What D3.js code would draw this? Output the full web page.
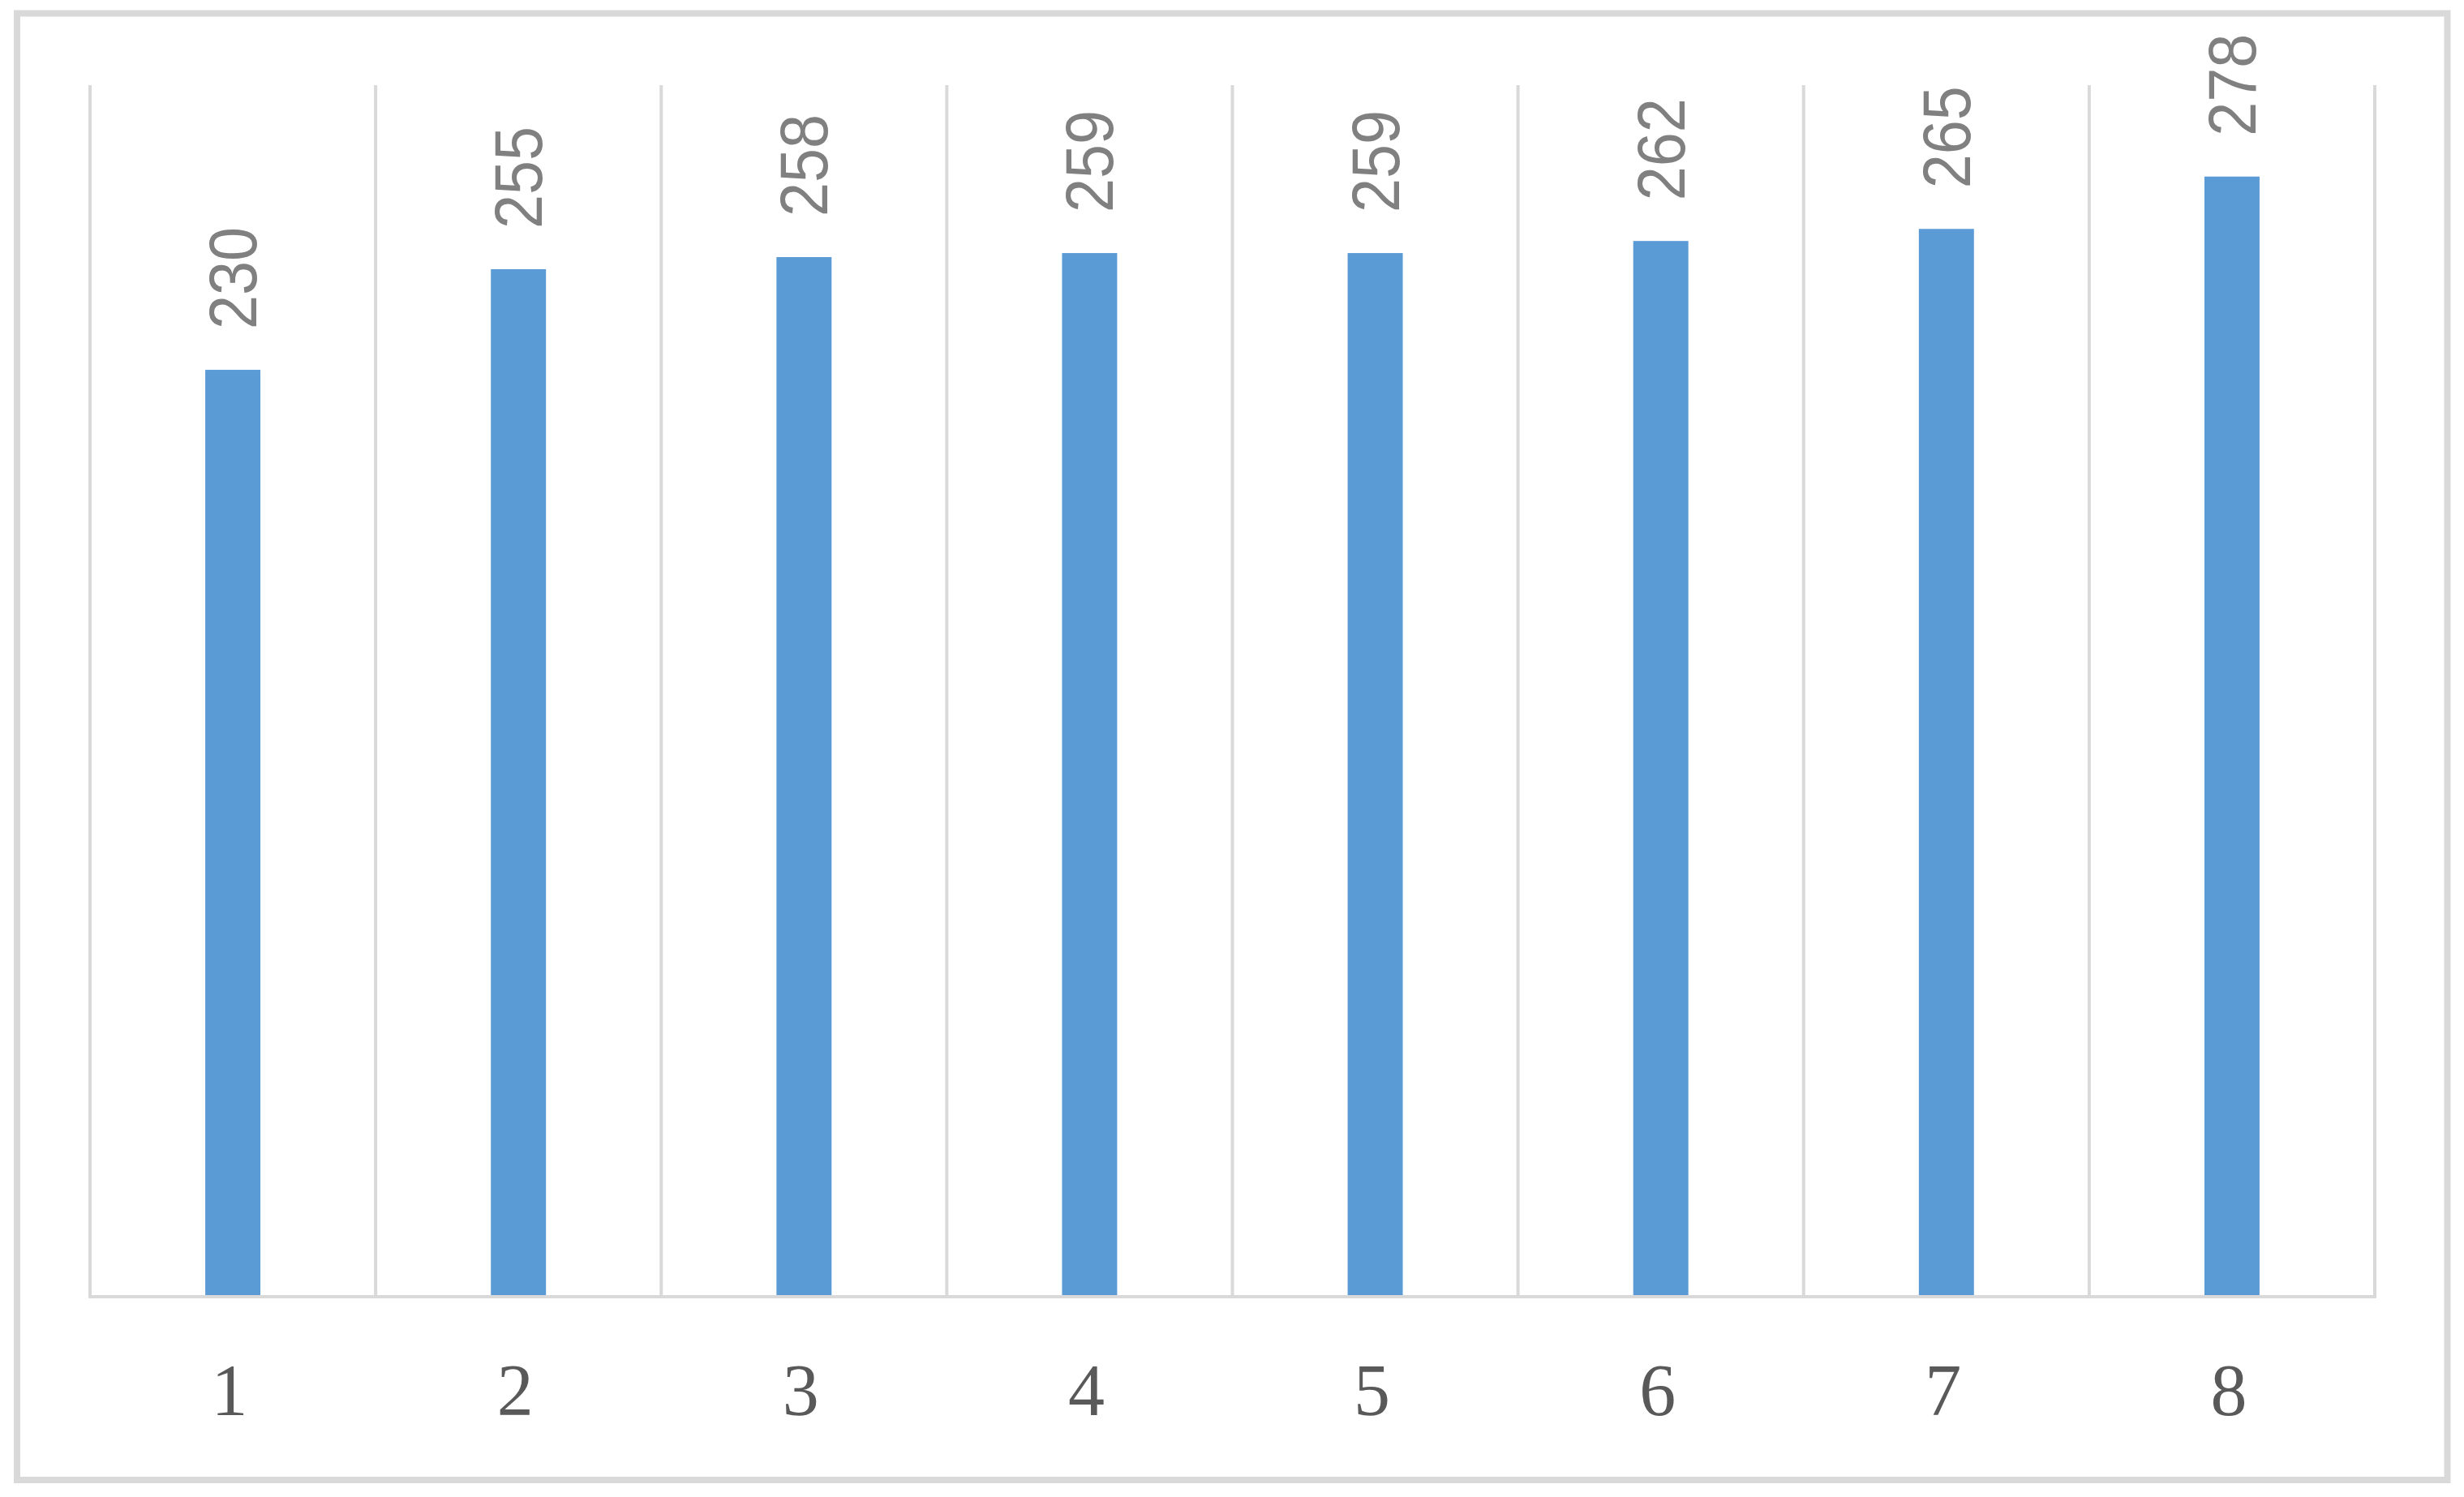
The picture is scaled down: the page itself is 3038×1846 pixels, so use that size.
<!DOCTYPE html>
<html>
<head>
<meta charset="utf-8">
<script src="https://cdn.jsdelivr.net/npm/d3@7"></script>
<style>
  body { margin: 0; background: #fff; }
  svg { display: block; }
</style>
</head>
<body>
<div id="container"></div>
<script>
var categories = ["1", "2", "3", "4", "5", "6", "7", "8"];
var values = [230, 255, 258, 259, 259, 262, 265, 278];
var yMax = 300;

var width = 3038, height = 1846;
var plot = {left: 111, right: 2928, top: 105, bottom: 1598};

var svg = d3.select("#container").append("svg")
    .attr("width", width)
    .attr("height", height);

// outer chart border
svg.append("rect")
    .attr("x", 21)
    .attr("y", 16.5)
    .attr("width", 2996.5)
    .attr("height", 1808.5)
    .attr("fill", "#fff")
    .attr("stroke", "#d9d9d9")
    .attr("stroke-width", 8);

var x = d3.scaleBand()
    .domain(categories)
    .range([plot.left, plot.right]);

// value axis tops out a little below the gridline tops
var y = d3.scaleLinear()
    .domain([0, yMax])
    .range([plot.bottom, plot.top + 3.5]);

// vertical gridlines at the category boundaries
var bounds = categories.map(function(c) { return x(c); }).concat([plot.right]);
svg.append("g")
  .selectAll("line")
  .data(bounds)
  .enter().append("line")
    .attr("x1", function(d) { return d; })
    .attr("x2", function(d) { return d; })
    .attr("y1", plot.top)
    .attr("y2", plot.bottom)
    .attr("stroke", "#d9d9d9")
    .attr("stroke-width", 4);

var barW = x.bandwidth() * 0.193;

svg.append("g")
  .selectAll("rect")
  .data(values)
  .enter().append("rect")
    .attr("x", function(d, i) { return x(categories[i]) + x.bandwidth() / 2 - barW / 2; })
    .attr("y", function(d) { return y(d); })
    .attr("width", barW)
    .attr("height", function(d) { return y(0) - y(d); })
    .attr("fill", "#5b9bd5");

// baseline
svg.append("line")
    .attr("x1", plot.left - 2)
    .attr("x2", plot.right + 2)
    .attr("y1", plot.bottom + 1)
    .attr("y2", plot.bottom + 1)
    .attr("stroke", "#d9d9d9")
    .attr("stroke-width", 4);

// x axis labels
var xAxis = d3.axisBottom(x).tickSize(0).tickPadding(0);
var gx = svg.append("g")
    .attr("transform", "translate(-4," + plot.bottom + ")")
    .call(xAxis);
gx.select(".domain").remove();
gx.selectAll("text")
    .attr("dy", null)
    .attr("y", 147)
    .attr("font-family", "'Liberation Serif', 'DejaVu Serif', serif")
    .attr("font-size", 90)
    .attr("fill", "#595959");

// data labels, rotated
svg.append("g")
  .selectAll("text")
  .data(values)
  .enter().append("text")
    .attr("transform", function(d, i) {
      var cx = x(categories[i]) + x.bandwidth() / 2;
      return "translate(" + cx + "," + (y(d) - 50) + ") rotate(-90)";
    })
    .attr("dominant-baseline", "central")
    .attr("font-family", "'Liberation Sans', Arial, sans-serif")
    .attr("font-size", 84)
    .attr("textLength", function(d) { return String(d).length * 42; })
    .attr("lengthAdjust", "spacingAndGlyphs")
    .attr("fill", "#808080")
    .text(function(d) { return d; });
</script>
</body>
</html>
